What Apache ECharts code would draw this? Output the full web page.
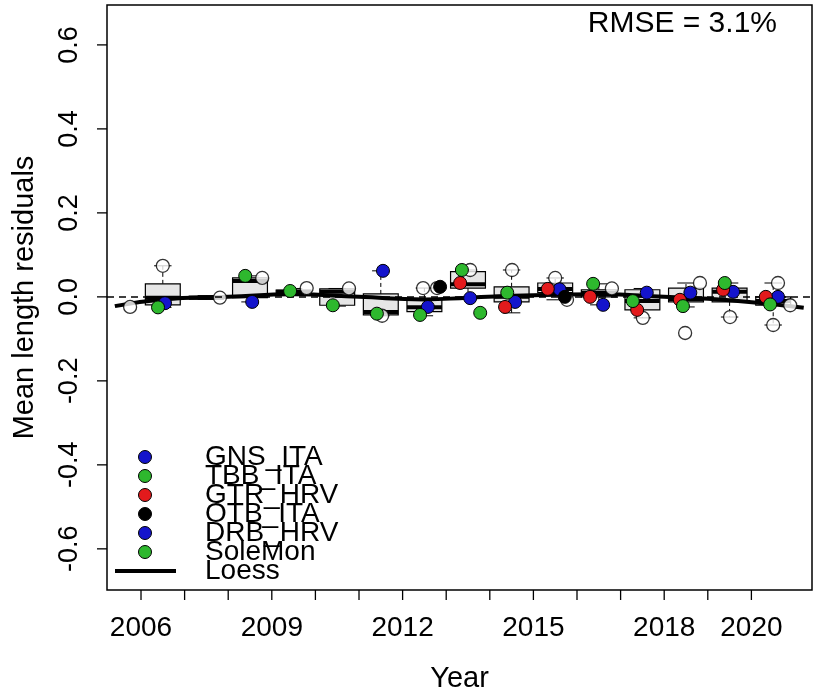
<!DOCTYPE html>
<html><head><meta charset="utf-8">
<script src="https://cdn.jsdelivr.net/npm/echarts@6/dist/echarts.min.js"></script>
<style>html,body{margin:0;padding:0;background:#fff}#c{width:816px;height:695px}</style>
</head><body><div id="c"></div>
<script>
// ---- data ----
const years = [2006,2007,2008,2009,2010,2011,2012,2013,2014,2015,2016,2017,2018,2019,2020];
const xTickLabels = [2006,2009,2012,2015,2018,2020];
const yTicks = [-0.6,-0.4,-0.2,0.0,0.2,0.4,0.6];
const boxShift = 0.5; // boxes drawn half a year right of the tick
const boxLow  = [-0.025,-0.006,-0.012,0.008,-0.022,-0.045,-0.045,-0.003,-0.038,-0.007,-0.019,-0.050,-0.024,-0.048,-0.067];
const boxQ1   = [-0.019,-0.004,-0.002,0.010,-0.020,-0.043,-0.035,0.021,-0.012,0.010,0.000,-0.031,-0.012,-0.012,-0.020];
const boxMed  = [-0.002,-0.002,0.038,0.012,0.012,-0.036,-0.025,0.030,0.000,0.019,0.010,-0.010,-0.005,0.012,-0.010];
const boxQ3   = [0.031,0.001,0.045,0.016,0.019,0.007,-0.005,0.060,0.024,0.033,0.017,0.017,0.021,0.021,0.000];
const boxHigh = [0.074,0.003,0.050,0.020,0.020,0.062,0.021,0.064,0.064,0.045,0.031,0.020,0.033,0.033,0.033];

const gnsIta = [[2006.55,-0.015],[2008.55,-0.012],[2011.55,0.062],[2012.58,-0.024],[2013.55,-0.003],[2014.58,-0.012],[2015.6,0.018],[2016.6,-0.019],[2019.58,0.012],[2020.61,0.0]];
const tbbIta = [[2006.39,-0.025],[2008.39,0.05],[2009.42,0.014],[2010.40,-0.02],[2011.41,-0.04],[2012.4,-0.043]];
const gtrHrv = [[2013.32,0.033],[2014.35,-0.024],[2015.33,0.019],[2016.3,0.0],[2017.38,-0.031],[2018.36,-0.007],[2019.35,0.017],[2020.33,0.0]];
const otbIta = [[2012.86,0.024],[2015.72,0.0]];
const drbHrv = [[2017.6,0.01],[2018.6,0.01]];
const soleMon = [[2013.36,0.064],[2014.4,0.01],[2016.37,0.031],[2017.28,-0.01],[2018.43,-0.022],[2019.39,0.033],[2020.43,-0.018],[2013.78,-0.038]];
const outliers = [[2005.75,-0.024],[2006.5,0.074],[2007.81,-0.002],[2008.78,0.045],[2009.8,0.021],[2010.77,0.02],[2011.53,-0.045],[2012.47,0.021],[2012.79,0.021],[2013.55,0.064],[2014.51,0.064],[2015.5,0.045],[2015.77,-0.007],[2016.8,0.02],[2017.51,-0.05],[2018.48,-0.086],[2018.82,0.033],[2019.51,-0.048],[2020.61,0.033],[2020.5,-0.067],[2020.89,-0.02]];
const loessX = [2005.4,2006.5,2008,2009.5,2011,2012.5,2013.5,2015,2016.5,2018,2019.5,2021.2];
const loessY = [-0.022,-0.006,0.0,0.006,0.0,-0.006,-0.002,0.004,0.006,0.0,-0.008,-0.026];
const legendNames = ['GNS_ITA','TBB_ITA','GTR_HRV','OTB_ITA','DRB_HRV','SoleMon'];
const legendColors = ['#1414cc','#2eb82e','#e31a1c','#000000','#1414cc','#2eb82e'];
const rmseText = 'RMSE = 3.1%';

// ---- build ----
const FONT = 'Liberation Sans, Arial, sans-serif';
const X_MIN = 2005.22, X_MAX = 2021.39, Y_MIN = -0.698, Y_MAX = 0.695;
const boxData = years.map((y,i)=>[y+boxShift, boxLow[i], boxQ1[i], boxMed[i], boxQ3[i], boxHigh[i]]);
const loessData = loessX.map((x,i)=>[x, loessY[i]]);
// tick marks: [axis(0=x,1=y), value]
const tickData = years.map(v=>[0, v]).concat(yTicks.map(v=>[1, v]));

function renderBox(params, api){
  const x = api.value(0);
  const lo = api.coord([x, api.value(1)]);
  const q1 = api.coord([x, api.value(2)]);
  const md = api.coord([x, api.value(3)]);
  const q3 = api.coord([x, api.value(4)]);
  const hi = api.coord([x, api.value(5)]);
  const hw = api.size([0.8, 0])[0] / 2;
  const cx = lo[0];
  const dash = {stroke:'#000', lineWidth:1, lineDash:[4,3]};
  const solid = {stroke:'#000', lineWidth:1};
  return {type:'group', children:[
    {type:'line', shape:{x1:cx,y1:q3[1],x2:cx,y2:hi[1]}, style:dash},
    {type:'line', shape:{x1:cx,y1:q1[1],x2:cx,y2:lo[1]}, style:dash},
    {type:'line', shape:{x1:cx-hw/2,y1:hi[1],x2:cx+hw/2,y2:hi[1]}, style:solid},
    {type:'line', shape:{x1:cx-hw/2,y1:lo[1],x2:cx+hw/2,y2:lo[1]}, style:solid},
    {type:'rect', shape:{x:cx-hw,y:q3[1],width:2*hw,height:Math.max(q1[1]-q3[1],1)}, style:{fill:'#e6e6e6',stroke:'#000',lineWidth:1.2}},
    {type:'line', shape:{x1:cx-hw,y1:md[1],x2:cx+hw,y2:md[1]}, style:{stroke:'#000',lineWidth:4}}
  ]};
}

function renderTick(params, api){
  const axis = api.value(0), v = api.value(1);
  const st = {stroke:'#000', lineWidth:1.3};
  if (axis === 0) {
    const p = api.coord([v, Y_MIN]);
    return {type:'line', shape:{x1:p[0], y1:p[1], x2:p[0], y2:p[1]+10}, style:st};
  }
  const p = api.coord([X_MIN, v]);
  return {type:'line', shape:{x1:p[0], y1:p[1], x2:p[0]-10, y2:p[1]}, style:st};
}

function pts(name, data, color){
  return {name, type:'scatter', data, symbol:'circle', symbolSize:13, z:5,
    itemStyle:{color, borderColor:'#000', borderWidth:1, opacity:1}};
}

// legend drawn as graphic elements (R-style tight line spacing)
const legendGraphic = [];
legendNames.forEach((n,i)=>{
  const cy = 457 + i*19;
  legendGraphic.push({type:'circle', shape:{cx:145, cy, r:6.5}, style:{fill:legendColors[i], stroke:'#000', lineWidth:1}, z:10});
  legendGraphic.push({type:'text', x:205, y:cy, style:{text:n, font:'28px '+FONT, fill:'#000', verticalAlign:'middle'}, z:10});
});
legendGraphic.push({type:'line', shape:{x1:115, y1:571, x2:176, y2:571}, style:{stroke:'#000', lineWidth:4}, z:10});
legendGraphic.push({type:'text', x:205, y:571, style:{text:'Loess', font:'28px '+FONT, fill:'#000', verticalAlign:'middle'}, z:10});

const chart = echarts.init(document.getElementById('c'), null, {renderer:'canvas'});
chart.setOption({
  animation:false,
  backgroundColor:'#fff',
  textStyle:{fontFamily:FONT},
  title:{text:rmseText, right:34, top:4, textStyle:{fontFamily:FONT, fontSize:30, fontWeight:'normal', color:'#000'}},
  grid:{left:107, top:5, right:4, bottom:105, show:true, borderColor:'#000', borderWidth:1.5, backgroundColor:'transparent',
    containLabel:false, outerBoundsMode:'none'},
  graphic:legendGraphic,
  xAxis:{type:'value', min:X_MIN, max:X_MAX, name:'Year', nameLocation:'middle', nameGap:74,
    nameTextStyle:{fontFamily:FONT, fontSize:29, color:'#000'},
    axisLine:{show:false}, splitLine:{show:false}, axisTick:{show:false},
    axisLabel:{customValues:xTickLabels, fontFamily:FONT, fontSize:28, color:'#000', margin:24, formatter:v=>String(Math.round(v))}},
  yAxis:{type:'value', min:Y_MIN, max:Y_MAX, name:'Mean length residuals', nameLocation:'middle', nameGap:68, nameRotate:90,
    nameTextStyle:{fontFamily:FONT, fontSize:29, color:'#000'},
    axisLine:{show:false}, splitLine:{show:false}, axisTick:{show:false},
    axisLabel:{customValues:yTicks, rotate:90, fontFamily:FONT, fontSize:27, color:'#000', margin:24, formatter:v=>v.toFixed(1)}},
  series:[
    {name:'ticks', type:'custom', renderItem:renderTick, data:tickData, clip:false, silent:true, encode:{x:-1, y:-1}},
    {name:'zero', type:'line', data:[], markLine:{silent:true, symbol:'none', label:{show:false},
      lineStyle:{color:'#000', type:[7,5], width:1.5}, data:[{yAxis:0}]}},
    {name:'box', type:'custom', renderItem:renderBox, data:boxData, z:2, encode:{x:0, y:[1,2,3,4,5]}},
    {name:'Loess', type:'line', data:loessData, smooth:0.5, symbol:'none', z:3, lineStyle:{color:'#000', width:4}, itemStyle:{color:'#000'}},
    {name:'outliers', type:'scatter', data:outliers, symbol:'circle', symbolSize:13, z:4,
      itemStyle:{color:'#fff', borderColor:'#000', borderWidth:1.3}},
    pts('GNS_ITA', gnsIta, legendColors[0]),
    pts('TBB_ITA', tbbIta, legendColors[1]),
    pts('GTR_HRV', gtrHrv, legendColors[2]),
    pts('OTB_ITA', otbIta, legendColors[3]),
    pts('DRB_HRV', drbHrv, legendColors[4]),
    pts('SoleMon', soleMon, legendColors[5])
  ]
});
</script></body></html>
